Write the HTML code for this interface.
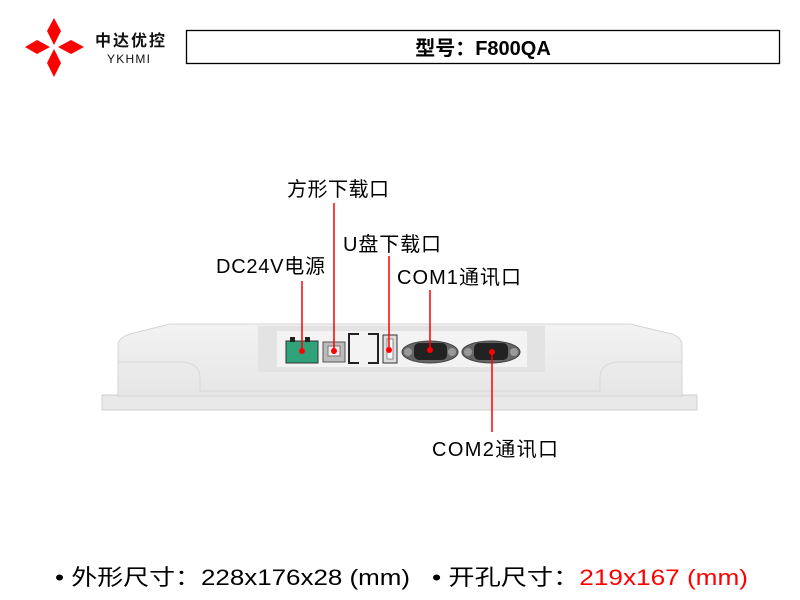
<!DOCTYPE html>
<html><head><meta charset="utf-8"><style>
body{margin:0;width:800px;height:600px;background:#fff;overflow:hidden}
svg{display:block}
text{font-family:"Liberation Sans","Noto Sans CJK SC",sans-serif}
</style></head><body>
<svg width="800" height="600" viewBox="0 0 800 600">
<defs>
<linearGradient id="body" x1="0" y1="0" x2="0" y2="1"><stop offset="0" stop-color="#f2f2f2"/><stop offset="1" stop-color="#e6e6e6"/></linearGradient>
</defs>
<g fill="#f00">
<polygon points="54,18 61,31 54,45 47,31"/>
<polygon points="54,77 61,63 54,49 47,63"/>
<polygon points="25,47 37,40 50,47 37,54"/>
<polygon points="84,47 71,40 58,47 71,54"/>
</g>
<text x="95" y="46" font-size="16" font-weight="bold" fill="#111" textLength="70">中达优控</text>
<text x="107" y="63" font-size="12" fill="#111" textLength="43">YKHMI</text>
<rect x="186.5" y="30.5" width="593" height="33" fill="#fff" stroke="#000" stroke-width="1.3"/>
<text x="483" y="55" font-size="20" font-weight="bold" text-anchor="middle" fill="#000">型号：F800QA</text>

<path d="M102,395 L697,395 L697,410 L102,410 Z" fill="#e9e9e9" stroke="#cfcfcf"/>
<path d="M118,396 L118,345 Q118,338 130,334 L170,324 L630,324 L672,334 Q682,338 682,345 L682,396 Z" fill="url(#body)" stroke="#d5d5d5"/>
<path d="M200,391 L200,378 Q200,362 180,362 L118,362" fill="none" stroke="#d8d8d8"/>
<path d="M600,391 L600,378 Q600,362 620,362 L682,362" fill="none" stroke="#d8d8d8"/>
<line x1="200" y1="391" x2="600" y2="391" stroke="#d8d8d8"/>
<rect x="258" y="326" width="287" height="46" fill="#e3e3e3"/>
<rect x="277" y="331" width="250" height="36" fill="#f3f3f3"/>
<rect x="286" y="341" width="32" height="22" fill="#2fa27a" stroke="#333"/>
<rect x="290" y="337" width="5" height="5" fill="#222"/><rect x="305" y="337" width="5" height="5" fill="#222"/>
<rect x="323" y="342" width="22" height="20" fill="#bbb" stroke="#555"/>
<rect x="328" y="346" width="12" height="10" fill="#eee" stroke="#777"/>
<path d="M359,334 H349 V363 H359 M368,334 H378 V363 H368" fill="none" stroke="#222" stroke-width="2"/>
<rect x="383" y="335" width="14" height="28" fill="#ddd" stroke="#333"/>
<rect x="387" y="339" width="6" height="20" fill="#fff" stroke="#888"/>
<ellipse cx="430" cy="352" rx="28" ry="11" fill="#666" stroke="#444"/>
<rect x="414" y="343" width="33" height="17" rx="5" fill="#222"/>
<circle cx="408" cy="352" r="4" fill="#999"/><circle cx="452" cy="352" r="4" fill="#999"/>
<ellipse cx="491" cy="352" rx="29" ry="11" fill="#666" stroke="#444"/>
<rect x="474" y="343" width="34" height="17" rx="5" fill="#222"/>
<circle cx="468" cy="352" r="4" fill="#999"/><circle cx="514" cy="352" r="4" fill="#999"/>

<g stroke="#f00" stroke-width="1.5">
<line x1="302" y1="281" x2="302" y2="351"/>
<line x1="334" y1="203" x2="334" y2="351"/>
<line x1="389" y1="256" x2="389" y2="350"/>
<line x1="430" y1="290" x2="430" y2="350"/>
<line x1="492" y1="352" x2="492" y2="432"/>
</g>
<g fill="#f00"><circle cx="302" cy="351" r="3"/><circle cx="334" cy="351" r="3"/><circle cx="389" cy="350" r="3"/><circle cx="430" cy="350" r="3"/><circle cx="492" cy="352" r="3"/></g>

<g font-size="20" fill="#000">
<text x="287" y="196" textLength="102">方形下载口</text>
<text x="343" y="251" textLength="98">U盘下载口</text>
<text x="216" y="273" textLength="109">DC24V电源</text>
<text x="397" y="284" textLength="124">COM1通讯口</text>
<text x="432" y="456" textLength="126">COM2通讯口</text>
</g>
<text x="55" y="585" font-size="22" fill="#000" textLength="355" lengthAdjust="spacingAndGlyphs">• 外形尺寸：228x176x28 (mm)</text>
<text x="432" y="585" font-size="22" fill="#000" textLength="316" lengthAdjust="spacingAndGlyphs">• 开孔尺寸：<tspan fill="#f00">219x167 (mm)</tspan></text>
</svg>
</body></html>
